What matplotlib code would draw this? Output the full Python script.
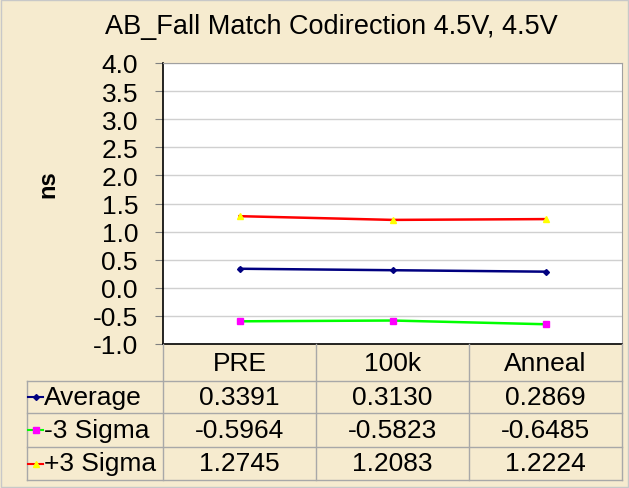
import numpy as np
import matplotlib.pyplot as plt
from matplotlib.lines import Line2D

plt.rcParams['font.family'] = ['Liberation Sans', 'DejaVu Sans']

# data
categories = ['PRE', '100k', 'Anneal']
series_names = ['Average', '-3 Sigma', '+3 Sigma']
average = [0.3391, 0.3130, 0.2869]
minus3 = [-0.5964, -0.5823, -0.6485]
plus3 = [1.2745, 1.2083, 1.2224]
yticks = np.arange(-1.0, 4.01, 0.5)

W, H = 629, 489
fig = plt.figure(figsize=(W / 100, H / 100), dpi=100)
bg = '#F6EBCF'
fig.patch.set_facecolor(bg)

def fx(px):
    return px / W

def fy(py):
    return 1 - py / H

# plot area
left, right, top, bottom = 163, 622, 64, 345
ax = fig.add_axes([fx(left), fy(bottom), fx(right) - fx(left), fy(top) - fy(bottom)])
ax.set_facecolor('white')
x = np.arange(len(categories))
ax.plot(x, plus3, color='#FF0000', lw=1.8, marker='^', ms=5, mfc='#FFFF00', mec='#FFFF00')
ax.plot(x, average, color='#000080', lw=1.8, marker='D', ms=3, mfc='#000080', mec='#000080')
ax.plot(x, minus3, color='#00FF00', lw=1.8, marker='s', ms=5, mfc='#FF00FF', mec='#FF00FF')
ax.set_xlim(-0.5, 2.5)
ax.set_ylim(-1.0, 4.0)
ax.set_yticks(yticks)
ax.set_yticklabels([f'{v:.1f}' for v in yticks], fontsize=19)
ax.set_xticks([])
ax.yaxis.grid(True, color='#D0D0D0', lw=1)
ax.set_axisbelow(True)
ax.tick_params(axis='y', length=6, color='#808080', pad=12)
for s in ['top', 'right']:
    ax.spines[s].set_color('#A0A0A0')
for s in ['left', 'bottom']:
    ax.spines[s].set_color('black')
    ax.spines[s].set_linewidth(1.2)

fig.text(fx(48), fy(184), 'ns', fontsize=17, fontweight='bold', rotation=90,
         ha='center', va='center')
fig.text(fx(331), fy(27), 'AB_Fall Match Codirection 4.5V, 4.5V', fontsize=19.5,
         ha='center', va='center')

# data table
col_edges = [163, 316, 469, 622]
row_edges = [345, 382, 414, 448, 481]
tab_left = 27
grid_c = '#A8A8A8'
for cx in col_edges:
    fig.add_artist(Line2D([fx(cx), fx(cx)], [fy(345), fy(481)], color=grid_c, lw=1))
fig.add_artist(Line2D([fx(tab_left), fx(tab_left)], [fy(382), fy(481)], color=grid_c, lw=1))
for ry in row_edges[1:]:
    fig.add_artist(Line2D([fx(tab_left), fx(622)], [fy(ry), fy(ry)], color=grid_c, lw=1))

centers = [(col_edges[i] + col_edges[i + 1]) / 2 for i in range(3)]
for c, cat in zip(centers, categories):
    fig.text(fx(c), fy(364), cat, fontsize=19, ha='center', va='center')

rows = [average, minus3, plus3]
styles = [('#000080', 'D', '#000080', 3), ('#00FF00', 's', '#FF00FF', 5),
          ('#FF0000', '^', '#FFFF00', 5)]
for i, (name, vals, st) in enumerate(zip(series_names, rows, styles)):
    yc = (row_edges[i + 1] + row_edges[i + 2]) / 2
    lc, mk, mc, ms = st
    fig.add_artist(Line2D([fx(28), fx(43)], [fy(yc), fy(yc)], color=lc, lw=1.5))
    fig.add_artist(Line2D([fx(35.5)], [fy(yc)], marker=mk, ms=ms, mfc=mc, mec=mc, lw=0))
    fig.text(fx(44), fy(yc), name, fontsize=19, ha='left', va='center')
    for c, v in zip(centers, vals):
        fig.text(fx(c), fy(yc), f'{v:.4f}', fontsize=19, ha='center', va='center')

# outer border
fig.add_artist(plt.Rectangle((0.002, 0.002), 0.996, 0.996, transform=fig.transFigure,
                             fill=False, edgecolor='#C8C8C8', lw=1))

fig.savefig('out.png', dpi=100, facecolor=bg)
